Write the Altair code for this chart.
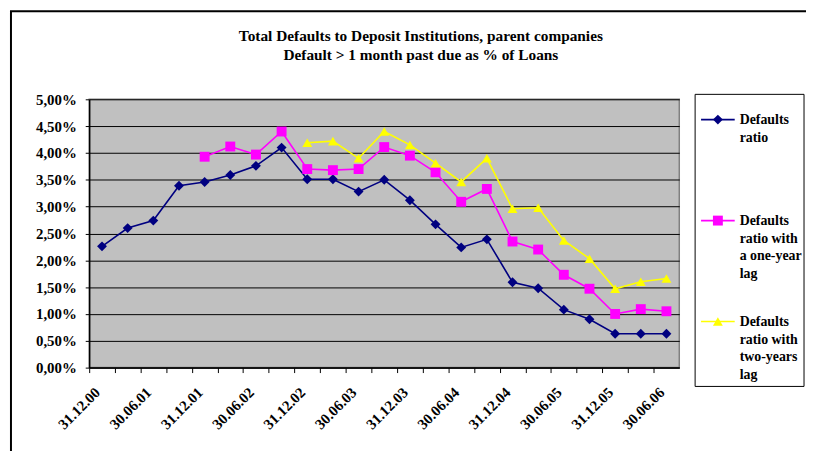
import altair as alt
import pandas as pd

dates = ["31.12.00", "31.03.01", "30.06.01", "30.09.01", "31.12.01", "31.03.02",
         "30.06.02", "30.09.02", "31.12.02", "31.03.03", "30.06.03", "30.09.03",
         "31.12.03", "31.03.04", "30.06.04", "30.09.04", "31.12.04", "31.03.05",
         "30.06.05", "30.09.05", "31.12.05", "31.03.06", "30.06.06"]

series_names = ["Defaults ratio",
                "Defaults ratio with a one-year lag",
                "Defaults ratio with two-years lag"]
legend_lines = [["Defaults", "ratio"],
                ["Defaults", "ratio with", "a one-year", "lag"],
                ["Defaults", "ratio with", "two-years", "lag"]]
series_colors = ["#000080", "#FF00FF", "#FFFF00"]
series_shapes = ["diamond", "square", "triangle-up"]

# values in percent; None where the series has no value
defaults_ratio = [2.26, 2.60, 2.74, 3.39, 3.46, 3.59, 3.76, 4.10, 3.51, 3.51, 3.28, 3.50,
                  3.12, 2.67, 2.24, 2.39, 1.59, 1.48, 1.08, 0.90, 0.63, 0.63, 0.63]
one_year_lag = [None, None, None, None, 3.93, 4.12, 3.97, 4.40, 3.70, 3.68, 3.70, 4.11,
                3.95, 3.64, 3.09, 3.33, 2.35, 2.20, 1.73, 1.47, 1.00, 1.09, 1.05]
two_year_lag = [None, None, None, None, None, None, None, None, 4.19, 4.22, 3.90, 4.40,
                4.15, 3.81, 3.46, 3.90, 2.96, 2.98, 2.37, 2.03, 1.47, 1.60, 1.66]

y_ticks = [0, 0.005, 0.01, 0.015, 0.02, 0.025, 0.03, 0.035, 0.04, 0.045, 0.05]

rows = []
for name, vals in zip(series_names, [defaults_ratio, one_year_lag, two_year_lag]):
    for d, v in zip(dates, vals):
        if v is not None:
            rows.append({"series": name, "date": d, "value": v / 100.0})
df = pd.DataFrame(rows)

FONT = "Liberation Serif"
W, H = 596, 271
HALF_BAND = W / len(dates) / 2

x_enc = alt.X(
    "date:O", sort=dates,
    scale=alt.Scale(type="point", padding=0.5),
    axis=alt.Axis(
        title=None, labelAngle=-45, labelAlign="right", labelBaseline="middle",
        labelPadding=17, tickOffset=-HALF_BAND, labelOffset=HALF_BAND - 5, tickSize=5,
        tickColor="black", domainColor="black", domainWidth=1.5,
        labelExpr="(slice(datum.value,0,5)=='31.12' || slice(datum.value,0,5)=='30.06') ? datum.value : ''",
        labelOverlap=False, labelFont=FONT, labelFontSize=15, labelFontWeight="bold",
        labelColor="black", grid=False, labelFlush=False,
    ),
)
y_enc = alt.Y(
    "value:Q",
    scale=alt.Scale(domain=[0, 0.05], nice=False),
    axis=alt.Axis(
        title=None, values=y_ticks,
        labelExpr="replace(format(datum.value, '.2%'), '.', ',')",
        tickSize=4, labelPadding=9, tickColor="black", domainColor="black", domainWidth=1.5,
        grid=True, gridColor="black", gridWidth=1, gridOpacity=1,
        labelFont=FONT, labelFontSize=15, labelFontWeight="bold", labelColor="black",
    ),
)

lines = alt.Chart(df).mark_line(strokeWidth=1.6).encode(
    x=x_enc, y=y_enc,
    color=alt.Color("series:N", scale=alt.Scale(domain=series_names, range=series_colors),
                    legend=None),
)

points = alt.Chart(df).mark_point(filled=True, size=100, opacity=1).encode(
    x=x_enc, y=y_enc,
    fill=alt.Fill("series:N", scale=alt.Scale(domain=series_names, range=series_colors),
                  legend=None),
    shape=alt.Shape("series:N", scale=alt.Scale(domain=series_names, range=series_shapes),
                    legend=None),
)

one = pd.DataFrame({"f": [0]})

# outer chart frame
frame = alt.Chart(one).mark_rect(
    fillOpacity=0, stroke="black", strokeWidth=2
).encode(x=alt.value(-79), x2=alt.value(760), y=alt.value(-89), y2=alt.value(420))

# legend box and entries
legend_layers = [
    alt.Chart(one).mark_rect(fill="white", stroke="black", strokeWidth=1).encode(
        x=alt.value(612), x2=alt.value(722), y=alt.value(-5), y2=alt.value(290))
]
for i, (name, color, shape, lns) in enumerate(
        zip(series_names, series_colors, series_shapes, legend_lines)):
    ys = 20.5 + 102 * i
    legend_layers.append(
        alt.Chart(one).mark_rule(color=color, strokeWidth=1.6).encode(
            x=alt.value(618), x2=alt.value(652), y=alt.value(ys)))
    legend_layers.append(
        alt.Chart(one).mark_point(filled=True, shape=shape, size=100, color=color,
                                  opacity=1).encode(x=alt.value(635), y=alt.value(ys)))
    legend_layers.append(
        alt.Chart(one).mark_text(text=lns, align="left", baseline="top", lineHeight=17.7,
                                 font=FONT, fontSize=14, fontWeight="bold",
                                 color="black").encode(x=alt.value(657), y=alt.value(ys - 6.5)))

chart = alt.layer(frame, lines, points, *legend_layers).properties(
    width=W, height=H,
    autosize=alt.AutoSizeParams(type="none"),
    padding={"left": 82, "top": 90, "right": 128, "bottom": 82},
    title=alt.TitleParams(
        text=["Total Defaults to Deposit Institutions, parent companies",
              "Default > 1 month past due as % of Loans"],
        font=FONT, fontSize=15.5, fontWeight="bold", color="black",
        anchor="middle", dx=37, offset=-54, lineHeight=19,
    ),
).configure(background="white").configure_view(fill="#C0C0C0", stroke="#808080", strokeWidth=1.5)

chart.save("out.html", embed_options={"renderer": "svg", "actions": False})
